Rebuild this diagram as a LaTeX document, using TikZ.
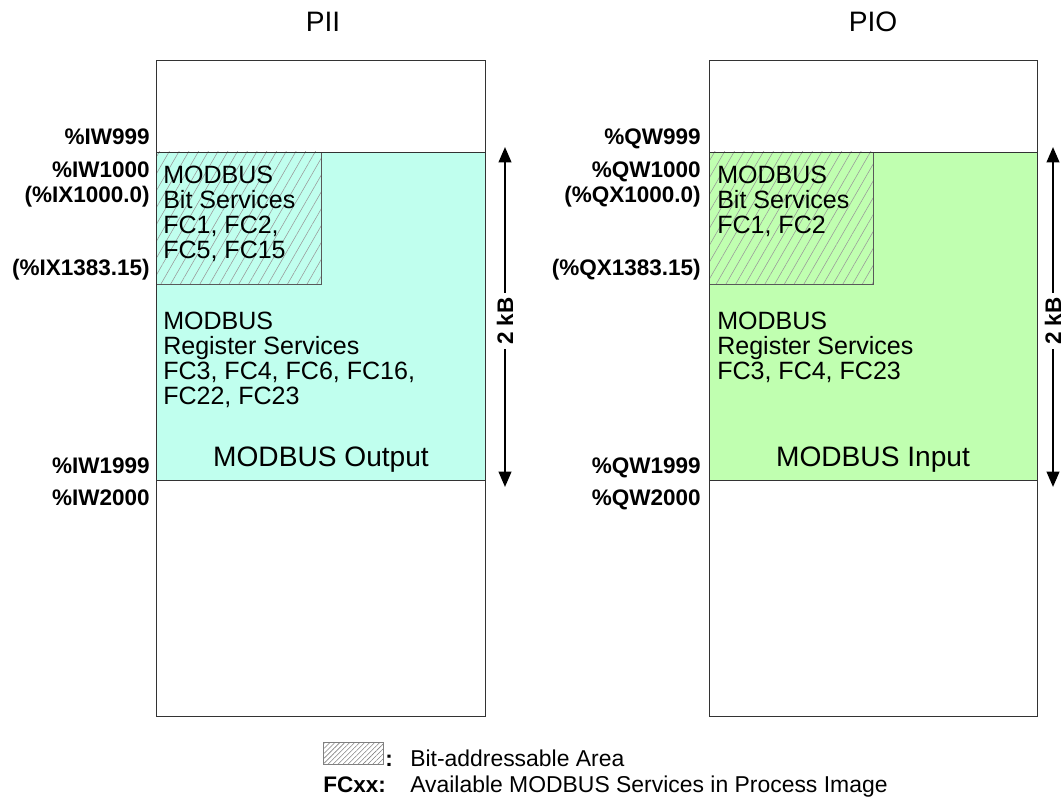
\documentclass[tikz,border=0pt]{standalone}
\usepackage{fontspec}
\setmainfont{Liberation Sans}
\usetikzlibrary{arrows.meta,patterns.meta}
\definecolor{regcyan}{RGB}{192,255,238}
\definecolor{reggreen}{RGB}{192,255,176}

\begin{document}
\begin{tikzpicture}[x=0.025cm,y=-0.025cm,
  addr/.style={anchor=base east,inner sep=0pt,font=\fontsize{16}{18}\selectfont\bfseries},
  txt/.style={anchor=north west,inner sep=0pt,align=left,font=\fontsize{17.8}{17.7}\selectfont},
  hatch/.style={pattern={Lines[angle=60,distance=6pt,line width=0.4pt]},pattern color=gray!80},
  dim/.style={line width=1.6pt,{Triangle[width=9pt,length=11pt]}-{Triangle[width=9pt,length=11pt]}},
  kb/.style={fill=white,rotate=90,inner sep=3pt,font=\fontsize{16}{18}\selectfont\bfseries}]
  \useasboundingbox (0,0) rectangle (1064,799);
  % PII
  \node (tI) at (323,22) {\fontsize{20}{22}\selectfont PII};
  \fill[regcyan] (156,152) rectangle (485,480);
  \fill[hatch] (156,152) rectangle (321,284); \draw[gray!70!black] (156,284) -| (321,152);
  \draw[black!80] (156,152) -- (485,152) (156,480) -- (485,480);
  \draw[black!80] (156,60) rectangle (485,716);
  \node[addr] (i999) at (150,145) {\%IW999};
  \node[addr] (i1000) at (150,178) {\%IW1000};
  \node[addr] (ix0) at (150,203) {(\%IX1000.0)};
  \node[addr] (ix15) at (150,276) {(\%IX1383.15)};
  \node[addr] (i1999) at (150,473) {\%IW1999};
  \node[addr] (i2000) at (150,505) {\%IW2000};
  \node[txt] (bitI) at (163,166) {MODBUS\\Bit Services\\FC1, FC2,\\FC5, FC15};
  \node[txt] (regI) at (163,312) {MODBUS\\Register Services\\FC3, FC4, FC6, FC16,\\FC22, FC23};
  \node[anchor=base,inner sep=0pt,font=\fontsize{20}{20}\selectfont] (outI) at (321,466) {MODBUS Output};
  \coordinate (aIt) at (505,147); \coordinate (aIb) at (505,487);
  \draw[dim] (aIt) -- (aIb);
  \node[kb] (kbI) at (505,321) {2 kB};
  % PIO
  \node (tO) at (873,22) {\fontsize{20}{22}\selectfont PIO};
  \fill[reggreen] (709,152) rectangle (1037,480);
  \fill[hatch] (709,152) rectangle (873,284); \draw[gray!70!black] (709,284) -| (873,152);
  \draw[black!80] (709,152) -- (1037,152) (709,480) -- (1037,480);
  \draw[black!80] (709,60) rectangle (1037,716);
  \node[addr] (q999) at (701,145) {\%QW999};
  \node[addr] (q1000) at (701,178) {\%QW1000};
  \node[addr] (qx0) at (701,203) {(\%QX1000.0)};
  \node[addr] (qx15) at (701,276) {(\%QX1383.15)};
  \node[addr] (q1999) at (701,473) {\%QW1999};
  \node[addr] (q2000) at (701,505) {\%QW2000};
  \node[txt] (bitO) at (717,166) {MODBUS\\Bit Services\\FC1, FC2};
  \node[txt] (regO) at (717,312) {MODBUS\\Register Services\\FC3, FC4, FC23};
  \node[anchor=base,inner sep=0pt,font=\fontsize{20}{20}\selectfont] (inO) at (873,466) {MODBUS Input};
  \coordinate (aOt) at (1053,147); \coordinate (aOb) at (1053,487);
  \draw[dim] (aOt) -- (aOb);
  \node[kb] (kbO) at (1053,321) {2 kB};
  % legend
  \fill[pattern={Lines[angle=45,distance=2.5pt,line width=0.4pt]},pattern color=gray] (323,742) rectangle (383,764);
  \draw[gray] (323,742) rectangle (383,764);
  \node[anchor=base west,inner sep=0pt,font=\fontsize{16}{18}\selectfont\bfseries] (lc) at (385,766) {:};
  \node[anchor=base west,inner sep=0pt,font=\fontsize{16.3}{18}\selectfont] (lb) at (410,766) {Bit-addressable Area};
  \node[anchor=base west,inner sep=0pt,font=\fontsize{16}{18}\selectfont\bfseries] (lf) at (323,792) {FCxx:};
  \node[anchor=base west,inner sep=0pt,font=\fontsize{16.3}{18}\selectfont] (la) at (410,792) {Available MODBUS Services in Process Image};
\end{tikzpicture}
\end{document}
